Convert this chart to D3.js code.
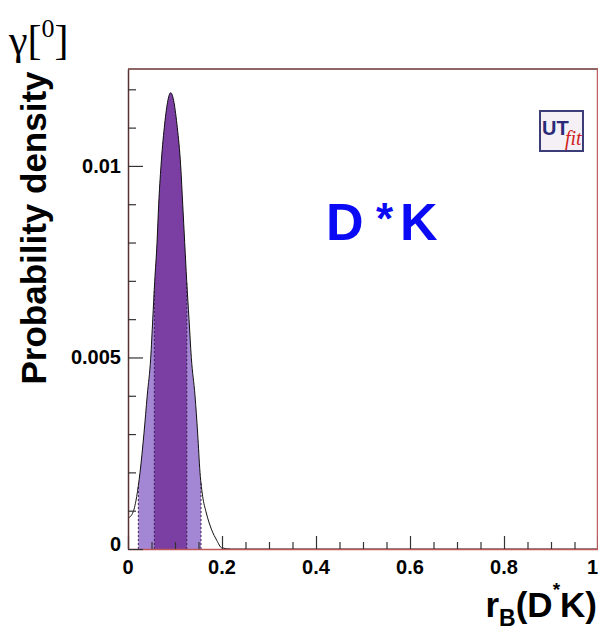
<!DOCTYPE html>
<html>
<head>
<meta charset="utf-8">
<script src="https://cdn.jsdelivr.net/npm/d3@7"></script>
<style>
  body { margin: 0; background: #fff; }
  svg { display: block; }
</style>
</head>
<body>
<div id="chart"></div>
<script>
// density curve
const rValues = [0, 0.011, 0.0185, 0.0255, 0.034, 0.041, 0.0483, 0.0526, 0.0568, 0.0617, 0.0653, 0.0702, 0.0772, 0.0909,
                 0.1049, 0.1121, 0.1164, 0.1206, 0.1249, 0.1298, 0.1347, 0.1426, 0.1483, 0.1532, 0.1589, 0.166, 0.178, 0.1887, 0.1994, 0.22, 1]
const density = [0.0008, 0.00097, 0.00137, 0.00199, 0.00302, 0.00402, 0.00498, 0.00598, 0.00698, 0.00798, 0.0090, 0.0100, 0.0110, 0.01191,
                 0.0110, 0.0100, 0.0090, 0.0080, 0.0070, 0.0060, 0.0050, 0.0040, 0.0030, 0.0020, 0.00137, 0.00097, 0.0005, 0.00023, 0.00003, 0, 0]

// probability intervals
const band95 = [0.022, 0.1553]
const band68 = [0.056, 0.125]

const xMajor = [0, 0.2, 0.4, 0.6, 0.8, 1]
const xTickLabels = ["0", "0.2", "0.4", "0.6", "0.8", "1"]
const yMajor = [0, 0.005, 0.01]
const yTickLabels = ["0", "0.005", "0.01"]

const width = 598
const height = 634
const pLeft = 128, pRight = 598, pTop = 69, pBottom = 549

const svg = d3.select("#chart").append("svg")
              .attr("width", width)
              .attr("height", height)

const x = d3.scaleLinear().domain([0, 1]).range([pLeft, pRight])
const y = d3.scaleLinear().domain([0, 0.01253]).range([pBottom, pTop])

const pts = rValues.map((r, i) => [r, density[i]])

const area = d3.area()
               .x(d => x(d[0]))
               .y0(y(0))
               .y1(d => y(d[1]))
               .curve(d3.curveMonotoneX)
const line = d3.line()
               .x(d => x(d[0]))
               .y(d => y(d[1]))
               .curve(d3.curveMonotoneX)

const defs = svg.append("defs")
function clip(id, range) {
  defs.append("clipPath").attr("id", id)
      .append("rect")
      .attr("x", x(range[0]))
      .attr("y", pTop)
      .attr("width", x(range[1]) - x(range[0]))
      .attr("height", pBottom - pTop)
}
clip("c95", band95)
clip("c68", band68)

svg.append("path").datum(pts)
   .attr("d", area)
   .attr("fill", "#a487d4")
   .attr("clip-path", "url(#c95)")
svg.append("path").datum(pts)
   .attr("d", area)
   .attr("fill", "#7b3fa3")
   .attr("clip-path", "url(#c68)")

// dotted edges of the intervals
const interp = r => {
  const i = d3.bisectRight(rValues, r)
  const t = (r - rValues[i - 1]) / (rValues[i] - rValues[i - 1])
  return density[i - 1] + t * (density[i] - density[i - 1])
}
svg.selectAll("line.edge")
   .data(band95.concat(band68))
   .enter()
   .append("line")
   .attr("class", "edge")
   .attr("x1", d => x(d)).attr("x2", d => x(d))
   .attr("y1", y(0)).attr("y2", d => y(interp(d)))
   .attr("stroke", "#3a2050")
   .attr("stroke-width", 1)
   .attr("stroke-dasharray", "2,2")

svg.append("path").datum(pts)
   .attr("d", line)
   .attr("fill", "none")
   .attr("stroke", "#111")
   .attr("stroke-width", 1)

// frame
svg.append("line").attr("x1", pLeft).attr("x2", pRight).attr("y1", pTop).attr("y2", pTop)
   .attr("stroke", "#6b3535").attr("stroke-width", 1.5)
svg.append("line").attr("x1", pRight - 0.5).attr("x2", pRight - 0.5).attr("y1", pTop).attr("y2", pBottom)
   .attr("stroke", "#c06060").attr("stroke-width", 1.5)

// ticks through d3 axes (inward)
const xMinor = d3.range(0, 1.0001, 0.05)
const isMajorX = d => xMajor.some(m => Math.abs(m - d) < 1e-6)
const xAxisG = svg.append("g")
   .attr("transform", `translate(0,${pBottom})`)
   .call(d3.axisBottom(x).tickValues(xMinor).tickSizeOuter(0).tickFormat(""))
xAxisG.selectAll(".tick line")
   .attr("y2", d => isMajorX(d) ? -13 : -7)
   .attr("stroke", "#333")
   .attr("stroke-width", 1.2)
xAxisG.select(".domain").attr("stroke", "#c05858").attr("stroke-width", 1.5)

const yMinor = d3.range(0, 0.0125, 0.001)
const yAxisG = svg.append("g")
   .attr("transform", `translate(${pLeft},0)`)
   .call(d3.axisLeft(y).tickValues(yMinor).tickSizeOuter(0).tickFormat(""))
yAxisG.selectAll(".tick line")
   .attr("x2", (d, i) => i % 5 === 0 ? 15 : 8)
   .attr("stroke", "#333")
   .attr("stroke-width", 1.2)
yAxisG.select(".domain").attr("stroke", "#5a3030").attr("stroke-width", 1.5)

const tickFont = "'Liberation Sans', Arial, sans-serif"
svg.selectAll("text.xl").data(xMajor).enter().append("text")
   .attr("class", "xl")
   .attr("x", d => x(d))
   .attr("y", 574)
   .attr("text-anchor", d => d === 1 ? "end" : "middle")
   .attr("font-family", tickFont)
   .attr("font-weight", "bold")
   .attr("font-size", 20)
   .text((d, i) => xTickLabels[i])
svg.selectAll("text.yl").data(yMajor).enter().append("text")
   .attr("class", "yl")
   .attr("x", 121)
   .attr("y", (d, i) => i === 0 ? y(d) + 2 : y(d) + 7)
   .attr("text-anchor", "end")
   .attr("font-family", tickFont)
   .attr("font-weight", "bold")
   .attr("font-size", 20)
   .text((d, i) => yTickLabels[i])

// axis titles
svg.append("text")
   .attr("transform", "translate(46,228) rotate(-90)")
   .attr("text-anchor", "middle")
   .attr("font-family", tickFont)
   .attr("font-weight", "bold")
   .attr("font-size", 35)
   .text("Probability density")

const xTitle = svg.append("text")
   .attr("x", 597).attr("y", 617)
   .attr("text-anchor", "end")
   .attr("font-family", tickFont)
   .attr("font-weight", "bold")
   .attr("font-size", 35)
xTitle.append("tspan").text("r")
xTitle.append("tspan").attr("font-size", 23).attr("dy", 9).text("B")
xTitle.append("tspan").attr("dy", -9).text("(D")
xTitle.append("tspan").attr("font-size", 19).attr("dy", -21).text("*")
xTitle.append("tspan").attr("dy", 21).text("K)")

const g = svg.append("text")
   .attr("x", 9).attr("y", 54)
   .attr("font-family", "'Liberation Serif', 'Times New Roman', serif")
   .attr("font-size", 42)
g.append("tspan").text("γ[")
g.append("tspan").attr("font-size", 26).attr("dy", -17).text("0")
g.append("tspan").attr("dy", 17).text("]")

// label inside the plot
const label = [
  {t: "D", x: 326, y: 240, s: 52},
  {t: "*", x: 376, y: 234, s: 44},
  {t: "K", x: 400, y: 240, s: 52}
]
svg.selectAll("text.lab").data(label).enter().append("text")
   .attr("class", "lab")
   .attr("x", d => d.x).attr("y", d => d.y)
   .attr("font-family", tickFont)
   .attr("font-weight", "bold")
   .attr("font-size", d => d.s)
   .attr("fill", "#0a0af5")
   .text(d => d.t)

// UTfit logo
const logo = svg.append("g").attr("transform", "translate(540,111)")
logo.append("rect")
    .attr("width", 43).attr("height", 40)
    .attr("fill", "#f4f0f6")
    .attr("stroke", "#3c3c78").attr("stroke-width", 2)
const logoText = logo.append("text")
    .attr("x", 2).attr("y", 24)
logoText.append("tspan")
    .attr("font-family", "'Liberation Sans Narrow', 'Liberation Sans', sans-serif")
    .attr("font-weight", "bold")
    .attr("font-size", 20)
    .attr("fill", "#2a2a78")
    .text("UT")
logoText.append("tspan")
    .attr("x", 25).attr("dy", 10)
    .attr("font-family", "'Liberation Serif', serif")
    .attr("font-style", "italic")
    .attr("font-size", 20)
    .attr("fill", "#d02020")
    .text("fit")
</script>
</body>
</html>
